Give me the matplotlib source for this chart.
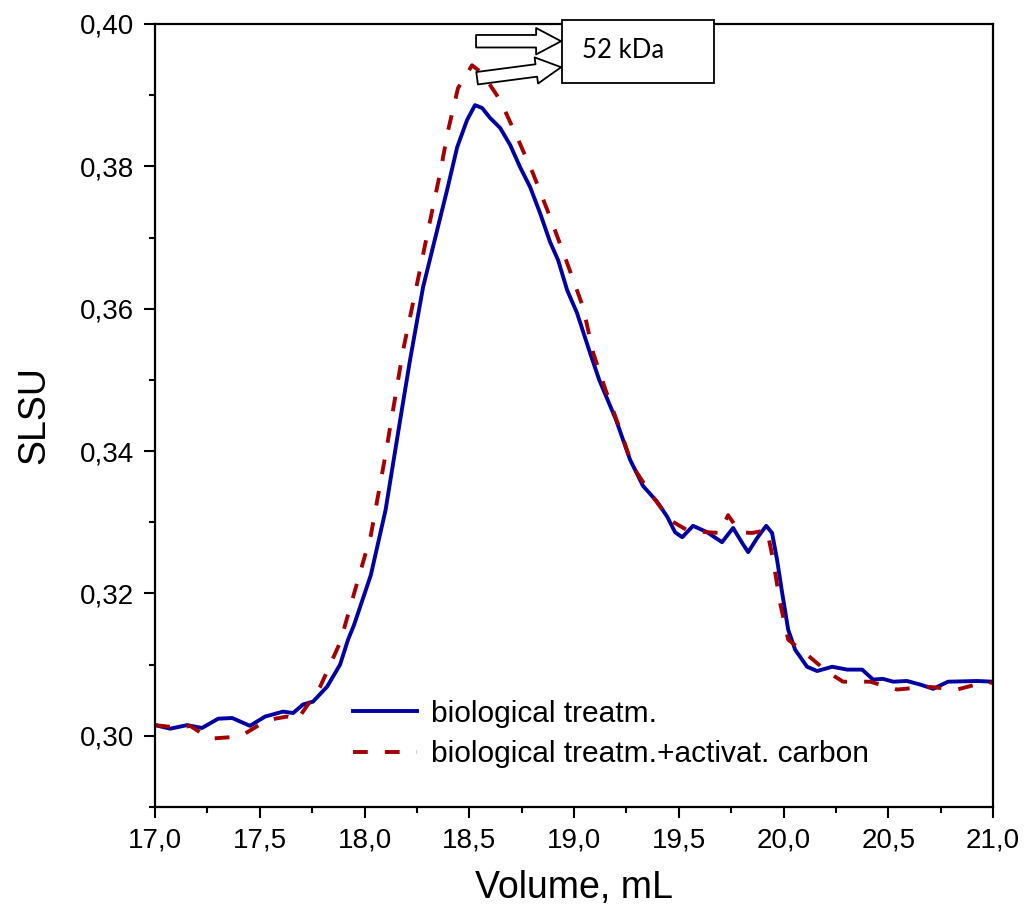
import numpy as np
import matplotlib
matplotlib.use('Agg')
import matplotlib.pyplot as plt
from matplotlib.patches import FancyArrowPatch, Rectangle
from matplotlib.ticker import MultipleLocator, FuncFormatter

plt.rcParams['font.family'] = ['Liberation Sans', 'DejaVu Sans']

# biological treatment (solid blue)
vol_bio = [17.000, 17.072, 17.153, 17.224, 17.301, 17.368, 17.453, 17.525, 17.611, 17.659,
           17.706, 17.754, 17.821, 17.883, 17.921, 17.950, 18.030, 18.100, 18.170, 18.217,
           18.279, 18.346, 18.394, 18.442, 18.489, 18.527, 18.561, 18.599, 18.647, 18.695,
           18.742, 18.790, 18.838, 18.885, 18.924, 18.967, 19.014, 19.076, 19.120, 19.200,
           19.267, 19.329, 19.396, 19.444, 19.482, 19.516, 19.568, 19.635, 19.706, 19.759,
           19.802, 19.831, 19.874, 19.917, 19.945, 19.969, 19.993, 20.022, 20.055, 20.112,
           20.160, 20.232, 20.303, 20.375, 20.427, 20.475, 20.523, 20.589, 20.652, 20.714,
           20.785, 20.924, 21.000]
slsu_bio = [0.3015, 0.3010, 0.3015, 0.3011, 0.3024, 0.3025, 0.3014, 0.3027, 0.3034, 0.3032,
            0.3044, 0.3048, 0.3069, 0.3100, 0.3135, 0.3156, 0.3226, 0.3317, 0.3444, 0.3528,
            0.3630, 0.3710, 0.3767, 0.3827, 0.3865, 0.3886, 0.3882, 0.3868, 0.3854, 0.3830,
            0.3799, 0.3771, 0.3734, 0.3694, 0.3668, 0.3626, 0.3594, 0.3538, 0.3500, 0.3444,
            0.3388, 0.3351, 0.3329, 0.3308, 0.3286, 0.3279, 0.3295, 0.3286, 0.3272, 0.3292,
            0.3271, 0.3258, 0.3278, 0.3295, 0.3285, 0.3247, 0.3201, 0.3149, 0.3121, 0.3097,
            0.3091, 0.3097, 0.3093, 0.3093, 0.3079, 0.3080, 0.3076, 0.3077, 0.3072, 0.3066,
            0.3076, 0.3077, 0.3076]

# biological treatment + activated carbon (dashed red)
vol_ac = [17.000, 17.119, 17.167, 17.263, 17.406, 17.535, 17.630, 17.678, 17.788, 17.883,
          17.950, 18.030, 18.100, 18.184, 18.251, 18.303, 18.360, 18.399, 18.446, 18.513,
          18.561, 18.647, 18.728, 18.804, 18.885, 18.967, 19.043, 19.091, 19.150, 19.220,
          19.277, 19.363, 19.458, 19.539, 19.635, 19.697, 19.735, 19.792, 19.850, 19.921,
          19.950, 19.983, 20.022, 20.112, 20.208, 20.284, 20.413, 20.542, 20.685, 20.828,
          20.971, 21.000]
slsu_ac = [0.3015, 0.3011, 0.3014, 0.2996, 0.2999, 0.3022, 0.3027, 0.3022, 0.3069, 0.3131,
           0.3200, 0.3282, 0.3395, 0.3542, 0.3636, 0.3710, 0.3790, 0.3851, 0.3910, 0.3942,
           0.3931, 0.3893, 0.3841, 0.3790, 0.3729, 0.3664, 0.3602, 0.3538, 0.3486, 0.3430,
           0.3380, 0.3341, 0.3303, 0.3289, 0.3286, 0.3285, 0.3310, 0.3286, 0.3285, 0.3289,
           0.3247, 0.3187, 0.3135, 0.3114, 0.3090, 0.3076, 0.3076, 0.3065, 0.3069, 0.3065,
           0.3076, 0.3074]

fig = plt.figure(figsize=(10.27, 9.23), dpi=100)
ax = fig.add_axes([0.151, 0.1257, 0.816, 0.8483])

ax.plot(vol_bio, slsu_bio, color='#0000a0', lw=2.8, label='biological treatm.',
        solid_joinstyle='round')
ax.plot(vol_ac, slsu_ac, color='#a00000', lw=2.8, dashes=(3.8, 4.4),
        label='biological treatm.+activat. carbon')

ax.set_xlim(17.0, 21.0)
ax.set_ylim(0.29, 0.40)
ax.xaxis.set_major_locator(MultipleLocator(0.5))
ax.xaxis.set_minor_locator(MultipleLocator(0.25))
ax.yaxis.set_minor_locator(MultipleLocator(0.01))
ax.set_yticks([0.30, 0.32, 0.34, 0.36, 0.38, 0.40])
ax.xaxis.set_major_formatter(FuncFormatter(lambda v, p: f'{v:.1f}'.replace('.', ',')))
ax.yaxis.set_major_formatter(FuncFormatter(lambda v, p: f'{v:.2f}'.replace('.', ',')))

ax.tick_params(which='major', direction='out', length=8, width=1.5, labelsize=20, pad=7)
ax.tick_params(which='minor', direction='out', length=4.5, width=1.5)
for s in ax.spines.values():
    s.set_linewidth(1.6)

ax.set_xlabel('Volume, mL', fontsize=27, labelpad=12)
ax.set_ylabel('SLSU', fontsize=27, labelpad=20)

leg = ax.legend(loc='upper left', bbox_to_anchor=(0.222, 0.152), frameon=False,
                fontsize=21.5, handlelength=2.15, handletextpad=0.45, labelspacing=0.42,
                borderaxespad=0)

# annotation box and arrows
ax.add_patch(Rectangle((18.94, 0.3917), 0.73, 0.0089, fc='white', ec='black',
                       lw=1.3, clip_on=False, zorder=5))
ax.text(19.04, 0.3963, '52 kDa', fontsize=18.5, family=['Lato', 'DejaVu Sans'],
        va='center', ha='left', zorder=6)
for (x0, y0), (x1, y1) in [((18.532, 0.39758), (18.938, 0.39758)),
                           ((18.537, 0.39238), (18.938, 0.39393))]:
    arr = FancyArrowPatch((x0, y0), (x1, y1),
                          arrowstyle='simple,head_width=19,head_length=18,tail_width=9',
                          mutation_scale=1, fc='white', ec='black', lw=1.3,
                          shrinkA=0, shrinkB=0, zorder=6, clip_on=False)
    ax.add_patch(arr)

fig.savefig('out.png', dpi=100)
